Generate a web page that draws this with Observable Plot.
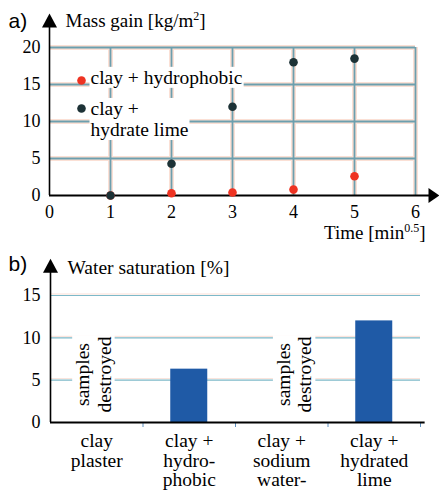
<!DOCTYPE html>
<html><head><meta charset="utf-8">
<script src="https://cdn.jsdelivr.net/npm/d3@7"></script>
<script src="https://cdn.jsdelivr.net/npm/@observablehq/plot@0.6"></script>
<style>
body{margin:0;background:#fff;}
svg{display:block;}
svg text{font-family:'Liberation Serif','Times New Roman',serif;}
svg text.sans{font-family:'Liberation Sans',Arial,sans-serif;}
</style>
</head><body><div id="chart"></div>
<script>
// ---- Chart a) data ----
const times = [1, 2, 3, 4, 5];
const hydrophobicGain = [0, 0.3, 0.4, 0.8, 2.6];
const limeGain = [0, 4.3, 12.0, 18.0, 18.5];
const timeTicks = [0, 1, 2, 3, 4, 5, 6];
const gainTicks = [0, 5, 10, 15, 20];
const legendLabels = ["clay + hydrophobic", "clay +\nhydrate lime"];

// ---- Chart b) data ----
const categories = ["clay\nplaster", "clay +\nhydro-\nphobic", "clay +\nsodium\nwater-", "clay +\nhydrated\nlime"];
const saturation = [null, 6.3, null, 12.0];
const destroyedLabel = "samples\ndestroyed";
const saturationTicks = [0, 5, 10, 15];

const RED = "#ee3322", DARK = "#1d3236", BLUE = "#1f5aa6", GRID = "#6c9fae", HALO = "#fbe0d5";
const serif = "'Liberation Serif', 'Times New Roman', serif";
const NS = "http://www.w3.org/2000/svg";

const triUp = {draw(ctx) { ctx.moveTo(0, -9); ctx.lineTo(7.5, 5); ctx.lineTo(-7.5, 5); ctx.closePath(); }};
const triRight = {draw(ctx) { ctx.moveTo(6, 0); ctx.lineTo(-5, -7.5); ctx.lineTo(-5, 7.5); ctx.closePath(); }};

const gainData = times.map((t, i) => ({t, hydro: hydrophobicGain[i], lime: limeGain[i]}));

const chartA = Plot.plot({
  width: 439, height: 245, marginLeft: 49, marginRight: 24, marginTop: 47, marginBottom: 50,
  x: {domain: [0, 6]}, y: {domain: [0, 20]},
  style: {fontFamily: serif, fontSize: "18px", background: "white", color: "black", overflow: "visible"},
  marks: [
    Plot.ruleY(gainTicks.slice(1), {x1: 0, x2: 6, stroke: HALO, strokeWidth: 5}),
    Plot.ruleX(timeTicks.slice(1), {y1: 0, y2: 20, stroke: HALO, strokeWidth: 5}),
    Plot.ruleY(gainTicks.slice(1), {x1: 0, x2: 6, stroke: GRID, strokeWidth: 1.8}),
    Plot.ruleX(timeTicks.slice(1), {y1: 0, y2: 20, stroke: GRID, strokeWidth: 1.8}),
    Plot.axisY(gainTicks, {tickSize: 0, tickPadding: 9, label: null, fontSize: 18, fontFamily: serif}),
    Plot.axisX(timeTicks, {tickSize: 0, tickPadding: 10, label: null, fontSize: 18, fontFamily: serif}),
    Plot.ruleY([0], {x1: 0, x2: 6.25, stroke: "black", strokeWidth: 2}),
    Plot.ruleX([0], {y1: 0, y2: 23, stroke: "black", strokeWidth: 1.6}),
    Plot.dot([6.295], {x: d => d, y: 0, symbol: triRight, r: 5, fill: "black"}),
    Plot.dot([23.38], {x: 0, y: d => d, symbol: triUp, r: 5, fill: "black"}),
    Plot.dot(gainData, {x: "t", y: "hydro", r: 4.3, fill: RED}),
    Plot.dot(gainData, {x: "t", y: "lime", r: 4.3, fill: DARK}),
    // legend
    Plot.dot([0], {frameAnchor: "top-left", dx: 32, dy: 33, r: 4.3, fill: RED}),
    Plot.dot([0], {frameAnchor: "top-left", dx: 32, dy: 61, r: 4.3, fill: DARK}),
    Plot.text([legendLabels[0]], {text: d => d, frameAnchor: "top-left", textAnchor: "start", lineAnchor: "top", dx: 41, dy: 22.5, fontSize: 19.5, fontFamily: serif}),
    Plot.text([legendLabels[1]], {text: d => d, frameAnchor: "top-left", textAnchor: "start", lineAnchor: "top", dx: 41, dy: 52.5, fontSize: 19.5, lineHeight: 1.08, fontFamily: serif}),
    // titles
    Plot.text(["a)"], {text: d => d, frameAnchor: "top-left", textAnchor: "start", lineAnchor: "middle", dx: -41, dy: -26.7, fontSize: 21}),
    Plot.text(["Mass gain [kg/m^2]"], {text: d => d, frameAnchor: "top-left", textAnchor: "start", lineAnchor: "middle", dx: 16, dy: -26.8, fontSize: 19, fontFamily: serif}),
    Plot.text(["Time [min^0.5]"], {text: d => d, frameAnchor: "bottom-right", textAnchor: "end", lineAnchor: "middle", dx: 10, dy: 37.9, fontSize: 19, fontFamily: serif})
  ]
});

const satData = categories.map((c, i) => ({c, i, v: saturation[i]}));

const chartB = Plot.plot({
  width: 439, height: 245, marginLeft: 50, marginRight: 19, marginTop: 50, marginBottom: 68,
  x: {domain: [0, 4]}, y: {domain: [0, 15]},
  style: {fontFamily: serif, fontSize: "18px", background: "white", color: "black", overflow: "visible"},
  marks: [
    Plot.ruleY(saturationTicks.slice(1), {x1: 0, x2: 4, stroke: "#fadfd6", strokeWidth: 1, dy: -1.5}),
    Plot.ruleY(saturationTicks.slice(1), {x1: 0, x2: 4, stroke: "#7db9c9", strokeWidth: 1.2}),
    Plot.rectY(satData.filter(d => d.v != null), {x1: d => d.i + 0.3, x2: d => d.i + 0.7, y: "v", fill: BLUE}),
    Plot.text(satData.filter(d => d.v == null), {x: d => d.i + (d.i === 0 ? 0.46 : 0.63), y: 5.67, text: () => destroyedLabel, rotate: -90, fontSize: 19.5, lineHeight: 1.1, fontFamily: serif}),
    Plot.text(satData, {x: d => d.i + 0.5, y: 0, text: "c", lineAnchor: "top", dy: 11, fontSize: 19.5, lineHeight: 1.0, fontFamily: serif}),
    Plot.axisY(saturationTicks, {tickSize: 0, tickPadding: 10, label: null, fontSize: 18, fontFamily: serif}),
    Plot.axisX([1, 2, 3, 4], {tickSize: 5, tickFormat: () => "", stroke: "#5d8fc0", label: null}),
    Plot.ruleY([0], {x1: 0, x2: 4.05, stroke: "black", strokeWidth: 2}),
    Plot.ruleX([0], {y1: 0, y2: 18, stroke: "black", strokeWidth: 1.6}),
    Plot.dot([18.27], {x: 0, y: d => d, symbol: triUp, r: 5, fill: "black"}),
    Plot.text(["b)"], {text: d => d, frameAnchor: "top-left", textAnchor: "start", lineAnchor: "middle", dx: -42, dy: -31.7, fontSize: 21}),
    Plot.text(["Water saturation [%]"], {text: d => d, frameAnchor: "top-left", textAnchor: "start", lineAnchor: "middle", dx: 17, dy: -28.2, fontSize: 19.5, fontFamily: serif})
  ]
});

const root = document.getElementById("chart");
root.appendChild(chartA);
root.appendChild(chartB);

function superscripts(svg) {
  svg.querySelectorAll("text").forEach(t => {
    if (t.children.length === 0 && t.textContent.includes("^")) {
      const [pre, rest] = t.textContent.split("^");
      const m = rest.match(/^([0-9.]+)(.*)$/);
      t.textContent = "";
      const a = document.createElementNS(NS, "tspan"); a.textContent = pre;
      const b = document.createElementNS(NS, "tspan"); b.textContent = m[1];
      b.setAttribute("dy", "-7"); b.setAttribute("font-size", "12");
      const c = document.createElementNS(NS, "tspan"); c.textContent = m[2];
      c.setAttribute("dy", "7");
      t.append(a, b, c);
    }
  });
}
function sansLabels(svg) {
  svg.querySelectorAll("text").forEach(t => {
    if (t.textContent === "a)" || t.textContent === "b)") t.classList.add("sans");
  });
}
function boxes(svg, match) {
  svg.querySelectorAll("text").forEach(t => {
    if (!match(t.textContent)) return;
    const bb = t.getBBox();
    const r = document.createElementNS(NS, "rect");
    r.setAttribute("x", bb.x - 1); r.setAttribute("y", bb.y);
    r.setAttribute("width", bb.width + 2); r.setAttribute("height", bb.height);
    r.setAttribute("fill", "white");
    if (t.getAttribute("transform")) r.setAttribute("transform", t.getAttribute("transform"));
    t.parentNode.insertBefore(r, t);
  });
}
superscripts(chartA);
sansLabels(chartA); sansLabels(chartB);
boxes(chartA, s => s === "clay + hydrophobic" || s === "clay +hydrate lime");
boxes(chartB, s => s === "samplesdestroyed");
</script></body></html>
